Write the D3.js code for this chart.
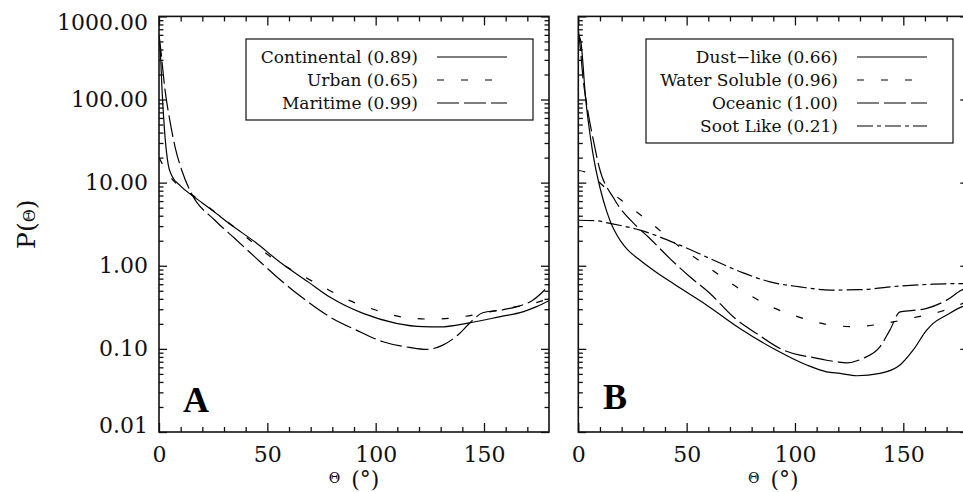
<!DOCTYPE html>
<html>
<head>
<meta charset="utf-8">
<script src="https://cdn.jsdelivr.net/npm/d3@7"></script>
<style>
  body { margin: 0; background: #fff; }
  svg { display: block; }
</style>
</head>
<body>
<svg id="chart" width="963" height="492"></svg>
<script>
// tick values and labels
const xMajor = [0, 50, 100, 150];
const xMinor = [10, 20, 30, 40, 60, 70, 80, 90, 110, 120, 130, 140, 160, 170];
const yMajor = [0.01, 0.1, 1, 10, 100, 1000];
const yLabels = ['0.01', '0.10', '1.00', '10.00', '100.00', '1000.00'];

// panel A : continental / urban / maritime
const legendA = ['Continental (0.89)', 'Urban (0.65)', 'Maritime (0.99)'];
const thetaContinental = [0, 0.5, 1.5, 2.8, 4.3, 5.8, 10, 15, 20, 25, 33.5, 44.2, 56.5, 68.8, 78.8, 94.2, 109.5, 121.8, 129.5, 143.3, 157.1, 167.9, 174, 180];
const pContinental = [500, 410, 117, 35, 16.2, 12.3, 9.1, 7.1, 5.7, 4.55, 3.07, 1.94, 1.07, 0.64, 0.42, 0.267, 0.203, 0.185, 0.184, 0.206, 0.243, 0.279, 0.32, 0.38];
const thetaUrban = [0, 2, 5, 10.5, 15, 25, 33.5, 42, 52.7, 64.2, 75.7, 85.7, 100.3, 113.4, 126.4, 139.5, 152.5, 164.8, 174, 180];
const pUrban = [20, 16, 12, 8.5, 7.2, 4.6, 3.1, 2.03, 1.22, 0.81, 0.557, 0.405, 0.292, 0.239, 0.228, 0.243, 0.279, 0.321, 0.36, 0.40];
const thetaMaritime = [0, 0.5, 2.8, 5, 7.4, 10.5, 15, 25.8, 35, 44.2, 53.5, 65.8, 78.8, 91.1, 103.4, 115.7, 123.4, 131, 138.7, 144.8, 149.4, 157.1, 164.8, 172.5, 180];
const pMaritime = [600, 470, 129, 56, 27, 14.1, 7.4, 3.53, 2.13, 1.28, 0.77, 0.42, 0.243, 0.168, 0.122, 0.104, 0.0986, 0.111, 0.153, 0.222, 0.272, 0.292, 0.32, 0.385, 0.58];

// panel B : components
const legendB = ['Dust\u2212like (0.66)', 'Water Soluble (0.96)', 'Oceanic (1.00)', 'Soot Like (0.21)'];
const thetaDust = [0, 1.1, 3.4, 6.5, 10.3, 13, 15, 18, 21.1, 24, 27.2, 35, 43.8, 59.3, 74.6, 90, 105.4, 114.6, 120.8, 128.5, 139.2, 148.5, 154.6, 160.8, 163.8, 170, 176.9, 180];
const pDust = [600, 510, 102, 24.5, 8.1, 4.6, 3.3, 2.3, 1.75, 1.45, 1.24, 0.87, 0.61, 0.336, 0.176, 0.101, 0.064, 0.053, 0.0507, 0.0475, 0.0507, 0.064, 0.097, 0.168, 0.203, 0.255, 0.32, 0.34];
const thetaWater = [0, 3, 13.4, 23.9, 34.2, 43.8, 55.4, 66.2, 77.4, 89.2, 101.5, 113.8, 127.7, 140, 153.1, 166.9, 175, 180];
const pWater = [14, 13.5, 8.3, 5.1, 3.16, 1.94, 1.17, 0.736, 0.472, 0.32, 0.243, 0.199, 0.185, 0.2, 0.233, 0.28, 0.33, 0.38];
const thetaOceanic = [0, 1, 2, 4.1, 7.2, 9.6, 16.5, 27.2, 32.3, 42.3, 51.5, 60.8, 71.5, 82.3, 94.6, 102.3, 106.9, 114.6, 119.2, 123.9, 131.5, 139.2, 143.8, 148.5, 154.6, 160.8, 170, 177, 180];
const pOceanic = [700, 400, 200, 81, 30, 15.5, 6.4, 2.94, 2.22, 1.22, 0.736, 0.464, 0.243, 0.153, 0.097, 0.084, 0.08, 0.073, 0.07, 0.068, 0.077, 0.106, 0.168, 0.279, 0.29, 0.307, 0.386, 0.51, 0.55];
const thetaSoot = [0, 7.2, 15, 28.5, 46.9, 60.8, 76.1, 88.5, 102.3, 116, 129.9, 148.5, 163.8, 177, 180];
const pSoot = [3.53, 3.5, 3.22, 2.68, 1.77, 1.22, 0.82, 0.64, 0.557, 0.51, 0.515, 0.57, 0.6, 0.61, 0.61];

const dashes = {solid: null, dash: '7,17', long: '22,5', dashdot: '16,4,4,4'};

const panels = [
  {
    letter: 'A', left: 159, letterX: 183, letterY: 412,
    legend: {x: 246, y: 39, w: 287, h: 81, textX: 418, lineX1: 437, lineX2: 507},
    series: [
      {name: legendA[0], theta: thetaContinental, p: pContinental, dash: dashes.solid},
      {name: legendA[1], theta: thetaUrban, p: pUrban, dash: dashes.dash},
      {name: legendA[2], theta: thetaMaritime, p: pMaritime, dash: dashes.long}
    ],
    yLabels: true
  },
  {
    letter: 'B', left: 578.3, letterX: 603, letterY: 409,
    legend: {x: 646, y: 39, w: 307, h: 104, textX: 838, lineX1: 857, lineX2: 927},
    series: [
      {name: legendB[0], theta: thetaDust, p: pDust, dash: dashes.solid},
      {name: legendB[1], theta: thetaWater, p: pWater, dash: dashes.dash},
      {name: legendB[2], theta: thetaOceanic, p: pOceanic, dash: dashes.long},
      {name: legendB[3], theta: thetaSoot, p: pSoot, dash: dashes.dashdot}
    ],
    yLabels: false
  }
];

const yTop = 16.4, yBottom = 432;
const font = '"DejaVu Serif", "Liberation Serif", serif';
const ink = '#111';

const svg = d3.select('#chart');

const y = d3.scaleLog().domain([0.01, 1000]).range([yBottom, yTop]);

const yMinor = [];
yMajor.slice(0, -1).forEach(function (d) {
  for (let k = 2; k <= 9; k++) yMinor.push(d * k);
});

function styleAxis(g) {
  g.select('.domain').remove();
  g.selectAll('line').attr('stroke', ink).attr('stroke-width', 1.3);
  g.attr('font-family', font).attr('font-size', 22);
  g.selectAll('text').attr('fill', ink);
}

panels.forEach(function (pn, pi) {
  const x = d3.scaleLinear().domain([0, 180]).range([pn.left, pn.left + 390]);
  const g = svg.append('g');

  g.append('clipPath').attr('id', 'clip' + pi)
    .append('rect')
    .attr('x', x(0)).attr('y', yTop)
    .attr('width', x(180) - x(0)).attr('height', yBottom - yTop);

  // curves
  const line = d3.line()
    .x(function (d) { return x(d[0]); })
    .y(function (d) { return y(d[1]); })
    .curve(d3.curveMonotoneX);

  g.append('g').attr('clip-path', 'url(#clip' + pi + ')')
    .selectAll('path')
    .data(pn.series)
    .join('path')
    .attr('d', function (s) { return line(s.theta.map(function (t, i) { return [t, s.p[i]]; })); })
    .attr('fill', 'none')
    .attr('stroke', '#000')
    .attr('stroke-width', 1.2)
    .attr('stroke-dasharray', function (s) { return s.dash; });

  // bottom axis
  g.append('g').attr('transform', 'translate(0,' + yBottom + ')')
    .call(d3.axisBottom(x).tickValues(xMajor).tickSize(-9).tickPadding(14.5).tickFormat(d3.format('d')))
    .call(styleAxis);
  g.append('g').attr('transform', 'translate(0,' + yBottom + ')')
    .call(d3.axisBottom(x).tickValues(xMinor).tickSize(-5).tickFormat(''))
    .call(styleAxis);
  // top axis
  g.append('g').attr('transform', 'translate(0,' + yTop + ')')
    .call(d3.axisTop(x).tickValues(xMajor).tickSize(-9).tickFormat(''))
    .call(styleAxis);
  g.append('g').attr('transform', 'translate(0,' + yTop + ')')
    .call(d3.axisTop(x).tickValues(xMinor).tickSize(-5).tickFormat(''))
    .call(styleAxis);

  // left axis
  const leftAxis = g.append('g').attr('transform', 'translate(' + x(0) + ',0)')
    .call(d3.axisLeft(y).tickValues(yMajor).tickSize(-8).tickPadding(11)
      .tickFormat(function (d, i) { return pn.yLabels ? yLabels[i] : ''; }))
    .call(styleAxis);
  leftAxis.selectAll('text')
    .attr('y', function (d) { return d === 1000 ? 6 : (d === 0.01 ? -7 : 0); });
  g.append('g').attr('transform', 'translate(' + x(0) + ',0)')
    .call(d3.axisLeft(y).tickValues(yMinor).tickSize(-4.5).tickFormat(''))
    .call(styleAxis);
  // right axis
  g.append('g').attr('transform', 'translate(' + x(180) + ',0)')
    .call(d3.axisRight(y).tickValues(yMajor).tickSize(-8).tickFormat(''))
    .call(styleAxis);
  g.append('g').attr('transform', 'translate(' + x(180) + ',0)')
    .call(d3.axisRight(y).tickValues(yMinor).tickSize(-4.5).tickFormat(''))
    .call(styleAxis);

  // frame
  g.append('rect')
    .attr('x', x(0)).attr('y', yTop)
    .attr('width', x(180) - x(0)).attr('height', yBottom - yTop)
    .attr('fill', 'none').attr('stroke', ink).attr('stroke-width', 1.6);

  // x title
  const xt = g.append('text')
    .attr('x', (x(0) + x(180)) / 2).attr('y', 487)
    .attr('text-anchor', 'middle')
    .attr('font-family', font).attr('font-size', 22).attr('fill', ink);
  xt.append('tspan').attr('font-size', 14).attr('dy', -4).text('\u0398');
  xt.append('tspan').attr('dy', 4).text('\u2002(\u00b0)');

  // legend
  const lg = g.append('g');
  lg.append('rect')
    .attr('x', pn.legend.x).attr('y', pn.legend.y)
    .attr('width', pn.legend.w).attr('height', pn.legend.h)
    .attr('fill', '#fff').attr('stroke', ink).attr('stroke-width', 1.2);
  const rows = lg.selectAll('g.row')
    .data(pn.series)
    .join('g').attr('class', 'row')
    .attr('transform', function (d, i) { return 'translate(0,' + (57 + i * 23) + ')'; });
  rows.append('text')
    .attr('x', pn.legend.textX).attr('y', 6)
    .attr('text-anchor', 'end')
    .attr('font-family', font).attr('font-size', 17).attr('fill', ink)
    .text(function (d) { return d.name; });
  rows.append('line')
    .attr('x1', pn.legend.lineX1).attr('x2', pn.legend.lineX2)
    .attr('stroke', '#000').attr('stroke-width', 1.2)
    .attr('stroke-dasharray', function (d) { return d.dash; });

  // panel letter
  g.append('text')
    .attr('x', pn.letterX).attr('y', pn.letterY)
    .attr('font-family', '"Liberation Serif", "DejaVu Serif", serif')
    .attr('font-weight', 'bold').attr('font-size', 36).attr('fill', '#000')
    .text(pn.letter);
});

// y title
const yt = svg.append('text')
  .attr('transform', 'translate(35,' + (yTop + yBottom) / 2 + ') rotate(-90)')
  .attr('text-anchor', 'middle')
  .attr('font-family', font).attr('font-size', 25).attr('fill', ink);
yt.append('tspan').text('P(');
yt.append('tspan').attr('font-size', 16).text('\u0398');
yt.append('tspan').text(')');
</script>
</body>
</html>
